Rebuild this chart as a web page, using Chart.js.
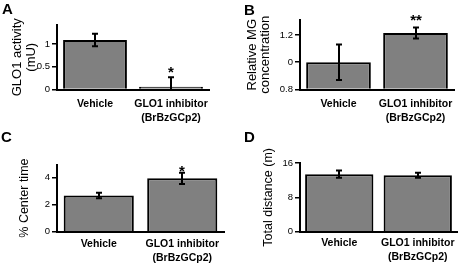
<!DOCTYPE html>
<html>
<head>
<meta charset="utf-8">
<script src="https://cdn.jsdelivr.net/npm/chart.js@4.4.1/dist/chart.umd.min.js"></script>
<style>
  html, body { margin: 0; padding: 0; background: #fff; }
  #fig { position: relative; width: 463px; height: 265px; overflow: hidden; }
  #fig canvas { position: absolute; }
  .tag { position: absolute; font: bold 15px "Liberation Sans", Arial, sans-serif; line-height: 15px; color: #000; }
</style>
</head>
<body>
<div id="fig">
  <canvas id="chartA" width="232" height="135" style="left:0;top:0"></canvas>
  <canvas id="chartB" width="231" height="135" style="left:232px;top:0"></canvas>
  <canvas id="chartC" width="232" height="130" style="left:0;top:135px"></canvas>
  <canvas id="chartD" width="231" height="130" style="left:232px;top:135px"></canvas>
  <div class="tag" style="left:2px;top:1px">A</div>
  <div class="tag" style="left:244px;top:2px">B</div>
  <div class="tag" style="left:1px;top:129px">C</div>
  <div class="tag" style="left:244px;top:129px">D</div>
</div>
<script>
const FONT = '"Liberation Sans", Arial, sans-serif';

// shared categories
const categories = ['Vehicle', ['GLO1 inhibitor', '(BrBzGCp2)']];

// A: GLO1 activity
const gloActivity = [1.09, 0.06];
const gloActivityErr = [0.14, 0.21];
const gloStars = ['', '*'];
const gloTicks = [0, 0.5, 1];
const gloTickLabels = ['0', '0.5', '1'];
const gloRange = [0, 1.42];

// B: relative MG concentration (tick labels as printed)
const mgConc = [1.0, 1.215];
const mgConcErr = [0.13, 0.04];
const mgStars = ['', '**'];
const mgTicks = [0.8, 1.0, 1.2];
const mgTickLabels = ['0.8', '0', '1.2'];
const mgRange = [0.8, 1.31];

// C: % center time
const centerTime = [2.67, 3.93];
const centerTimeErr = [0.2, 0.42];
const centerStars = ['', '*'];
const centerTicks = [0, 2, 4];
const centerTickLabels = ['0', '2', '4'];
const centerRange = [0, 4.95];

// D: total distance
const totalDistance = [13.4, 13.15];
const totalDistanceErr = [0.85, 0.6];
const distStars = ['', ''];
const distTicks = [0, 8, 16];
const distTickLabels = ['0', '8', '16'];
const distRange = [0, 16];

// error bars + significance stars
const errorBarPlugin = {
  id: 'errorBars',
  afterDatasetsDraw(chart, args, opts) {
    const { ctx, chartArea } = chart;
    const yScale = chart.scales.y;
    const meta = chart.getDatasetMeta(0);
    const values = chart.data.datasets[0].data;
    meta.data.forEach((bar, i) => {
      const v = values[i];
      const e = opts.errors[i];
      const x = Math.round(bar.x);
      const yHi = yScale.getPixelForValue(v + e);
      const yLo = yScale.getPixelForValue(v - e);
      ctx.save();
      ctx.beginPath();
      ctx.rect(0, 0, chart.width, chartArea.bottom);
      ctx.clip();
      ctx.strokeStyle = '#000';
      ctx.lineWidth = 2;
      ctx.beginPath();
      ctx.moveTo(x, yLo);
      ctx.lineTo(x, yHi);
      ctx.moveTo(x - 3, yHi);
      ctx.lineTo(x + 3, yHi);
      ctx.moveTo(x - 3, yLo);
      ctx.lineTo(x + 3, yLo);
      ctx.stroke();
      ctx.restore();

      if (opts.stars[i]) {
        ctx.save();
        ctx.fillStyle = '#000';
        ctx.font = 'bold 15px ' + FONT;
        ctx.textAlign = 'center';
        ctx.textBaseline = 'alphabetic';
        ctx.fillText(opts.stars[i], x, yHi - opts.starGap + 0.58 * 15);
        ctx.restore();
      }
    });
  }
};

function makePanel(id, o) {
  const canvas = document.getElementById(id);
  const H = canvas.height;
  return new Chart(canvas, {
    type: 'bar',
    data: {
      labels: categories,
      datasets: [{
        data: o.values,
        base: o.range[0],
        backgroundColor: '#808080',
        borderColor: '#000',
        borderWidth: 2,
        barPercentage: o.barPct,
        categoryPercentage: 1
      }]
    },
    options: {
      responsive: false,
      animation: false,
      devicePixelRatio: 1,
      layout: { padding: { left: 0, top: o.area.top, right: o.area.right, bottom: 0 } },
      plugins: {
        legend: { display: false },
        tooltip: { enabled: false },
        errorBars: { errors: o.errors, stars: o.stars, starGap: o.starGap }
      },
      scales: {
        x: {
          grid: { display: false, drawTicks: false },
          border: { display: true, color: '#000', width: 2 },
          ticks: {
            color: '#000',
            padding: o.labelPad,
            maxRotation: 0,
            autoSkip: false,
            font: { family: FONT, size: 10.5, weight: 'bold', lineHeight: 14 / 10.5 }
          },
          afterFit: s => { s.height = H - o.area.bottom; }
        },
        y: {
          min: o.range[0],
          max: o.range[1],
          afterBuildTicks: s => { s.ticks = o.ticks.map(v => ({ value: v })); },
          ticks: {
            color: '#000',
            padding: 2,
            font: { family: FONT, size: 9.5 },
            callback: (v, i) => o.tickLabels[i]
          },
          grid: { drawOnChartArea: false, drawTicks: true, tickLength: 5, color: '#000', lineWidth: 1.5 },
          border: { display: true, color: '#000', width: 2 },
          title: {
            display: true,
            text: o.title,
            color: '#000',
            font: { family: FONT, size: o.titleSize, lineHeight: o.titleLine / o.titleSize },
            padding: { top: o.titlePad, bottom: 0 }
          },
          afterFit: s => { s.width = o.area.left; }
        }
      }
    },
    plugins: [errorBarPlugin]
  });
}

makePanel('chartA', {
  values: gloActivity, errors: gloActivityErr, stars: gloStars, starGap: 8.5,
  ticks: gloTicks, tickLabels: gloTickLabels, range: gloRange,
  title: ['GLO1 activity', '(mU)'], titleSize: 13, titleLine: 14.5, titlePad: 10,
  area: { left: 57, right: 23, top: 25, bottom: 89.5 }, labelPad: 8, barPct: 0.84
});

makePanel('chartB', {
  values: mgConc, errors: mgConcErr, stars: mgStars, starGap: 11.5,
  ticks: mgTicks, tickLabels: mgTickLabels, range: mgRange,
  title: ['Relative MG', 'concentration'], titleSize: 13, titleLine: 12.5, titlePad: 14.5,
  area: { left: 68, right: 9, top: 20, bottom: 89.5 }, labelPad: 8, barPct: 0.84
});

makePanel('chartC', {
  values: centerTime, errors: centerTimeErr, stars: centerStars, starGap: 5.5,
  ticks: centerTicks, tickLabels: centerTickLabels, range: centerRange,
  title: '% Center time', titleSize: 12.5, titleLine: 14, titlePad: 18,
  area: { left: 57, right: 8, top: 29.5, bottom: 96.7 }, labelPad: 5, barPct: 0.84
});

makePanel('chartD', {
  values: totalDistance, errors: totalDistanceErr, stars: distStars, starGap: 8,
  ticks: distTicks, tickLabels: distTickLabels, range: distRange,
  title: 'Total distance (m)', titleSize: 12.5, titleLine: 14, titlePad: 29.5,
  area: { left: 68, right: 6, top: 28, bottom: 96.7 }, labelPad: 4.5, barPct: 0.87
});
</script>
</body>
</html>
